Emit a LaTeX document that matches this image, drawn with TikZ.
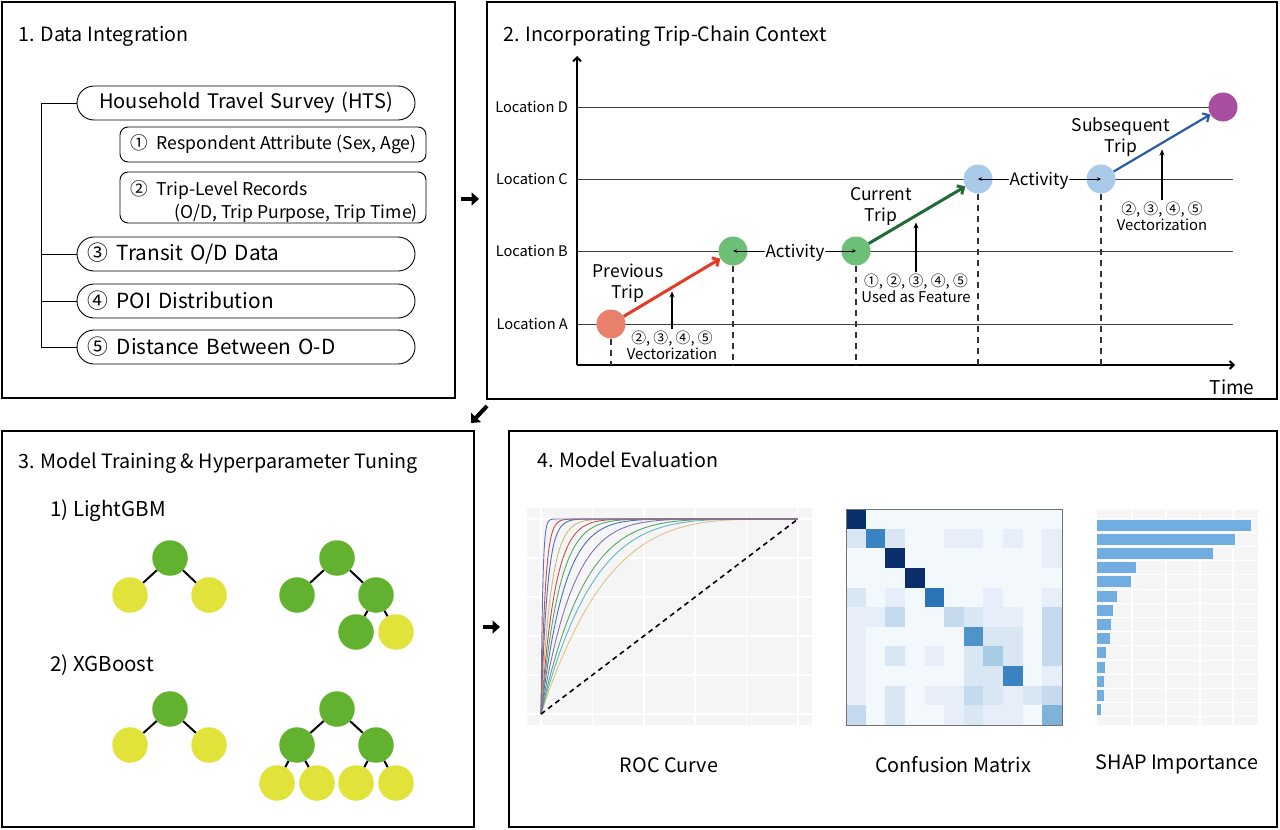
\documentclass[tikz,border=0pt]{standalone}
\usepackage{fontspec}
\setmainfont{Noto Sans CJK KR}
\usetikzlibrary{arrows.meta}
\definecolor{salmon}{HTML}{E8806B}
\definecolor{ngreen}{HTML}{6DBE76}
\definecolor{nblue}{HTML}{A9CAE8}
\definecolor{npurple}{HTML}{A8509F}
\definecolor{tred}{HTML}{E53A25}
\definecolor{tgreen}{HTML}{1F6B37}
\definecolor{tblue}{HTML}{2C5BA6}
\definecolor{treeG}{HTML}{62B22F}
\definecolor{treeY}{HTML}{E2E33A}
\definecolor{plotbg}{HTML}{F5F5F5}
\definecolor{shapbar}{HTML}{72ADE2}
\definecolor{rocA}{HTML}{6A6FB5}
\definecolor{rocB}{HTML}{C44E52}
\definecolor{rocC}{HTML}{4C72B0}
\definecolor{rocD}{HTML}{CCB974}
\definecolor{rocE}{HTML}{55A868}
\definecolor{rocF}{HTML}{8172B2}
\definecolor{rocG}{HTML}{64B5CD}
\definecolor{rocH}{HTML}{DCC48A}
\definecolor{cma}{HTML}{F3F8FD}
\definecolor{cmb}{HTML}{E6EFF9}
\definecolor{cmc}{HTML}{D9E6F4}
\definecolor{cmd}{HTML}{C5DAEE}
\definecolor{cme}{HTML}{A8CBE4}
\definecolor{cmf}{HTML}{7FB2D8}
\definecolor{cmg}{HTML}{4E93CA}
\definecolor{cmh}{HTML}{3A84C3}
\definecolor{cmi}{HTML}{2A74B8}
\definecolor{cmn}{HTML}{0B2F6B}
\tikzset{
 panel/.style={draw=black, line width=1.8pt},
 pill/.style={draw, line width=0.9pt, rounded corners=17pt, minimum height=34pt, inner xsep=10pt, text width=318pt, font=\fontsize{20.8}{24}\selectfont},
 sbox/.style={draw, line width=0.9pt, rounded corners=8pt, minimum width=306pt},
 boxtxt/.style={inner sep=0pt, font=\fontsize{17.6}{20}\selectfont},
 title/.style={anchor=base west, inner sep=0pt, font=\fontsize{19.7}{23}\selectfont},
 loc/.style={anchor=east, inner sep=0pt, font=\fontsize{14.6}{17}\selectfont},
 gline/.style={draw=black!75, line width=0.9pt},
 dot/.style={circle, minimum size=29pt, inner sep=0pt},
 dashv/.style={draw=black!80, line width=1.2pt, dash pattern=on 6pt off 5pt},
 lbl/.style={align=center, font=\fontsize{17.5}{21}\selectfont},
 smalllbl/.style={align=center, font=\fontsize{14.8}{16}\selectfont, inner sep=1pt},
 act/.style={anchor=base, fill=white, inner sep=1pt, font=\fontsize{17}{20}\selectfont},
 actarr/.style={-{Stealth[length=4pt,width=3.5pt]}, line width=0.8pt},
 uparr/.style={-{Stealth[length=6pt,width=5pt]}, line width=1.1pt},
 tripar/.style={line width=3pt, -{Straight Barb[length=5pt,width=10pt]}},
 tnode/.style={circle, minimum size=35.5pt, inner sep=0pt},
 tedge/.style={line width=2pt},
 bigarrow/.style={line width=4pt, -{Triangle[length=7.5pt,width=13pt]}},
 caplbl/.style={font=\fontsize{19.8}{23}\selectfont},
}
\begin{document}
\begin{tikzpicture}[x=1pt,y=-1pt]
\useasboundingbox (0,0) rectangle (1280,830);
\fill[white] (0,0) rectangle (1280,830);
% panels
\draw[panel] (2,2) rectangle (455,398);
\draw[panel] (487,2) rectangle (1277,399);
\draw[panel] (2,431) rectangle (474,827);
\draw[panel] (509,431) rectangle (1277,827);
% between-panel arrows
\coordinate (g1s) at (461,199); \coordinate (g1e) at (479,199);
\coordinate (g2s) at (487,406); \coordinate (g2e) at (471,423);
\coordinate (g3s) at (483,627); \coordinate (g3e) at (500,627);
\draw[bigarrow] (g1s) -- (g1e);
\draw[bigarrow] (g2s) -- (g2e);
\draw[bigarrow] (g3s) -- (g3e);

% ---------------- Panel 1
\node[title] (t1) at (18,41) {1. Data Integration};
\node[pill, align=center, font=\fontsize{20}{24}\selectfont] (hts) at (246,103) {Household Travel Survey (HTS)};
\node[sbox, minimum height=35pt] (bx1) at (273,144.5) {};
\node[boxtxt, anchor=west] (bx1t) at (130,144.5) {①\hspace{9pt}Respondent Attribute (Sex, Age)};
\node[sbox, minimum height=51pt] (bx2) at (273,197.5) {};
\node[boxtxt, anchor=base west] (bx2a) at (130,195) {②\hspace{9pt}Trip-Level Records};
\node[boxtxt, anchor=base east] (bx2b) at (418,218) {(O/D, Trip Purpose, Trip Time)};
\node[pill, align=left] (p3) at (246,254) {③\hspace{9pt}Transit O/D Data};
\node[pill, align=left] (p4) at (246,301) {④\hspace{9pt}POI Distribution};
\node[pill, align=left] (p5) at (246,347) {⑤\hspace{9pt}Distance Between O-D};
\coordinate (trk) at (41,103);
\draw[line width=0.9pt] (hts.west) -- (trk) -- (trk |- p5.west) -- (p5.west);
\draw[line width=0.9pt] (trk |- p3.west) -- (p3.west);
\draw[line width=0.9pt] (trk |- p4.west) -- (p4.west);

% ---------------- Panel 2
\node[title] (t2) at (503,41) {2. Incorporating Trip-Chain Context};
\coordinate (O) at (577,365);
\coordinate (Ytop) at (577,56);
\coordinate (Xend) at (1235,365);
\draw[gline] (577,107) -- (1233,107);
\draw[gline] (577,179) -- (1233,179);
\draw[gline] (577,251) -- (1233,251);
\draw[gline] (577,324) -- (1233,324);
\node[loc] (lD) at (568,107) {Location D};
\node[loc] (lC) at (568,179) {Location C};
\node[loc] (lB) at (568,251) {Location B};
\node[loc] (lA) at (568,324) {Location A};
\draw[line width=2pt, -{Straight Barb[length=4pt,width=8pt]}] (O) -- (Ytop);
\draw[line width=2pt, -{Straight Barb[length=4pt,width=8pt]}] (O) -- (Xend);
\node[font=\fontsize{19}{22}\selectfont] (time) at (1232,387) {Time};

\node[dot, fill=salmon] (A) at (611,324) {};
\node[dot, fill=ngreen] (B1) at (733,251) {};
\node[dot, fill=ngreen] (B2) at (856,251) {};
\node[dot, fill=nblue] (C1) at (978,179) {};
\node[dot, fill=nblue] (C2) at (1101,179) {};
\node[dot, fill=npurple] (D) at (1223,107) {};

\draw[dashv] (A.south) -- (A |- O);
\draw[dashv] (B1.south) -- (B1 |- O);
\draw[dashv] (B2.south) -- (B2 |- O);
\draw[dashv] (C1.south) -- (C1 |- O);
\draw[dashv] (C2.south) -- (C2 |- O);

\draw[tripar, tred] (A) -- (B1);
\draw[tripar, tgreen] (B2) -- (C1);
\draw[tripar, tblue, line width=2.2pt] (C2) -- (D);

\node[act] (act1) at (795,257) {Activity};
\draw[actarr] (act1.west |- B1.center) -- (B1.center);
\draw[actarr] (act1.east |- B2.center) -- (B2.center);
\node[act] (act2) at (1039,185) {Activity};
\draw[actarr] (act2.west |- C1.center) -- (C1.center);
\draw[actarr] (act2.east |- C2.center) -- (C2.center);

\node[lbl] (prev) at (628,283) {Previous\\Trip};
\node[lbl] (curr) at (881,206) {Current\\Trip};
\node[lbl] (subs) at (1121,137) {Subsequent\\Trip};

\node[smalllbl] (v1) at (672,345) {②, ③, ④, ⑤\\Vectorization};
\node[smalllbl] (f1) at (916,288) {①, ②, ③, ④, ⑤\\Used as Feature};
\node[smalllbl] (v2) at (1162,216) {②, ③, ④, ⑤\\Vectorization};
\draw[uparr] (v1.north) -- ++(0,-38);
\draw[uparr] (f1.north) -- ++(0,-50);
\draw[uparr] (v2.north) -- ++(0,-51);

% ---------------- Panel 3
\node[title] (t3) at (18,468) {3. Model Training \& Hyperparameter Tuning};
\node[title, font=\fontsize{20.5}{24}\selectfont] (lgb) at (50,516) {1) LightGBM};
\node[title, font=\fontsize{20.5}{24}\selectfont] (xgb) at (50,671) {2) XGBoost};
\node[tnode, fill=treeG] (r1) at (170,558) {};
\node[tnode, fill=treeY] (a1) at (130,595) {};
\node[tnode, fill=treeY] (b1) at (209,595) {};
\draw[tedge] (r1) -- (a1); \draw[tedge] (r1) -- (b1);
\node[tnode, fill=treeG] (r2) at (337,558) {};
\node[tnode, fill=treeG] (a2) at (297,595) {};
\node[tnode, fill=treeG] (b2) at (376,595) {};
\node[tnode, fill=treeG] (c2) at (356,632) {};
\node[tnode, fill=treeY] (d2) at (396,632) {};
\draw[tedge] (r2) -- (a2); \draw[tedge] (r2) -- (b2);
\draw[tedge] (b2) -- (c2); \draw[tedge] (b2) -- (d2);
\node[tnode, fill=treeG] (r3) at (170,709) {};
\node[tnode, fill=treeY] (a3) at (130,745) {};
\node[tnode, fill=treeY] (b3) at (209,745) {};
\draw[tedge] (r3) -- (a3); \draw[tedge] (r3) -- (b3);
\node[tnode, fill=treeG] (r4) at (337,709) {};
\node[tnode, fill=treeG] (a4) at (297,745) {};
\node[tnode, fill=treeG] (b4) at (376,745) {};
\node[tnode, fill=treeY] (c4) at (277,783) {};
\node[tnode, fill=treeY] (d4) at (317,783) {};
\node[tnode, fill=treeY] (e4) at (356,783) {};
\node[tnode, fill=treeY] (f4) at (396,783) {};
\draw[tedge] (r4) -- (a4); \draw[tedge] (r4) -- (b4);
\draw[tedge] (a4) -- (c4); \draw[tedge] (a4) -- (d4);
\draw[tedge] (b4) -- (e4); \draw[tedge] (b4) -- (f4);

% ---------------- Panel 4
\node[title] (t4) at (537,467) {4. Model Evaluation};
% ROC
\fill[plotbg] (527,508) rectangle (812,725);
\foreach \i in {0,...,5} {
  \draw[white, line width=1.5pt] ({541+51.4*\i},508) -- ({541+51.4*\i},725);
  \draw[white, line width=1.5pt] (527,{714-39*\i}) -- (812,{714-39*\i});
}
\begin{scope}[shift={(541,714)}, x=257pt, y=195pt]
  \foreach \k/\col in {4/rocH, 5/rocG, 6/rocE, 8/rocF, 11/rocC, 14/rocE, 18/rocB, 25/rocD, 40/rocC, 60/rocB, 150/rocA} {
    \draw[\col, line width=0.9pt] plot[domain=0:1, samples=90, variable=\t] ({\t*\t}, {1-(1-\t*\t)^\k});
  }
  \draw[black, line width=1.6pt, dash pattern=on 5pt off 4pt] (0,0) -- (1,1);
\end{scope}
\node[caplbl] (roc) at (669,765) {ROC Curve};
% Confusion matrix
\foreach \row [count=\r from 0] in {
 {n,a,a,a,a,a,a,a,a,a,a},
 {c,h,c,a,a,b,b,a,b,a,b},
 {a,a,n,a,a,a,a,a,a,a,b},
 {a,a,a,n,a,a,a,a,a,a,a},
 {c,a,b,a,i,a,a,b,a,a,b},
 {b,b,d,a,a,d,c,b,b,a,d},
 {b,a,a,a,a,a,g,c,c,a,d},
 {b,a,c,a,b,a,c,e,c,a,d},
 {b,a,a,a,a,a,c,c,h,a,b},
 {b,a,c,a,b,b,d,c,b,c,d},
 {d,a,c,a,a,b,c,b,b,a,f}} {
  \foreach \c [count=\q from 0] in \row {
    \fill[fill={cm\c}] ({846+\q*19.636},{509+\r*19.636}) rectangle ++(19.8,19.8);
  }
}
\draw[black!55, line width=0.8pt] (846,509) rectangle (1062,725);
\node[caplbl] (cmx) at (953,765) {Confusion Matrix};
% SHAP
\fill[plotbg] (1097,510) rectangle (1258,725);
\foreach \xx in {1132,1166,1200,1233} {
  \draw[white, line width=1.3pt] (\xx,510) -- (\xx,725);
}
\foreach \i in {0,...,14} {
  \draw[white, line width=1pt] (1097,{518+14.2*\i}) -- (1258,{518+14.2*\i});
}
\foreach \len [count=\i from 0] in {154,138,116,39,34,20,16,14,13,9,8,7,7,4} {
  \fill[shapbar] (1097,{525+14.2*\i-5.5}) rectangle ++(\len,11);
}
\node[caplbl] (shap) at (1177,764) {SHAP Importance};
\end{tikzpicture}
\end{document}
